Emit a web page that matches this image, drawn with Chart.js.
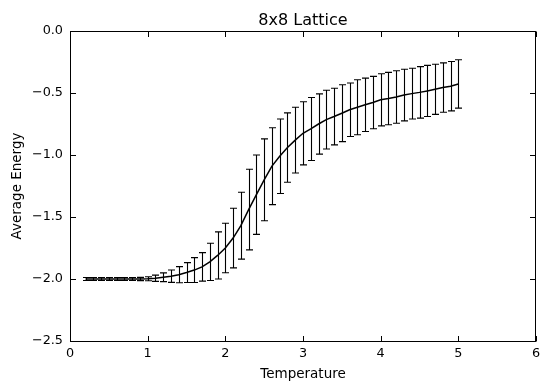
<!DOCTYPE html>
<html><head><meta charset="utf-8">
<script src="https://cdn.jsdelivr.net/npm/chart.js@4"></script>
<style>html,body{margin:0;padding:0;background:#fff}</style>
</head><body>
<canvas id="c" width="549" height="391"></canvas>
<script>
const temps = [0.2,0.3,0.4,0.5,0.6,0.7,0.8,0.9,1.0,1.1,1.2,1.3,1.4,1.5,1.6,1.7,1.8,1.9,2.0,
  2.1,2.2,2.3,2.4,2.5,2.6,2.7,2.8,2.9,3.0,3.1,3.2,3.3,3.4,3.5,3.6,3.7,3.8,3.9,4.0,
  4.1,4.2,4.3,4.4,4.5,4.6,4.7,4.8,4.9,5.0];
const meanEnergy = [-2.0,-2.0,-2.0,-2.0,-2.0,-2.0,-2.0,-2.0,-1.998,-1.994,-1.986,-1.977,-1.965,-1.948,-1.928,-1.902,-1.862,-1.81,-1.75,
  -1.67,-1.57,-1.44,-1.32,-1.20,-1.09,-1.01,-0.94,-0.88,-0.825,-0.79,-0.75,-0.715,-0.69,-0.663,-0.635,-0.615,-0.595,-0.577,-0.555,
  -0.545,-0.532,-0.517,-0.505,-0.495,-0.483,-0.47,-0.456,-0.445,-0.427];
const stdEnergy = [0.012,0.012,0.012,0.012,0.012,0.012,0.012,0.013,0.016,0.025,0.035,0.05,0.065,0.08,0.1,0.115,0.15,0.19,0.2,
  0.24,0.27,0.325,0.32,0.33,0.31,0.30,0.28,0.265,0.255,0.254,0.243,0.237,0.228,0.229,0.216,0.222,0.215,0.211,0.21,
  0.211,0.212,0.208,0.205,0.208,0.206,0.202,0.199,0.199,0.195];
const xTicks = [0,1,2,3,4,5,6];
const yTicks = [-2.5,-2.0,-1.5,-1.0,-0.5,0.0];
const titleText = '8x8 Lattice';
const xLabel = 'Temperature';
const yLabel = 'Average Energy';

const FONT = '"DejaVu Sans", "Liberation Sans", sans-serif';
const fmtY = v => v.toFixed(1).replace('-', '\u2212');

const errorBars = {
  id: 'errorBars',
  afterDatasetsDraw(chart) {
    const {ctx, scales: {x, y}} = chart;
    ctx.save();
    ctx.strokeStyle = '#000';
    ctx.lineWidth = 1.1;
    const cap = 3.5;
    temps.forEach((t, i) => {
      const px = Math.round(x.getPixelForValue(t)) + 0.5;
      const yt = y.getPixelForValue(meanEnergy[i] + stdEnergy[i]);
      const yb = y.getPixelForValue(meanEnergy[i] - stdEnergy[i]);
      ctx.beginPath();
      ctx.moveTo(px, yt); ctx.lineTo(px, yb);
      ctx.moveTo(px - cap, yt); ctx.lineTo(px + cap, yt);
      ctx.moveTo(px - cap, yb); ctx.lineTo(px + cap, yb);
      ctx.stroke();
    });
    ctx.restore();
  }
};

const frame = {
  id: 'frame',
  afterDraw(chart) {
    const {ctx, chartArea: a, scales: {x, y}} = chart;
    ctx.save();
    ctx.strokeStyle = '#000';
    ctx.lineWidth = 1;
    const L = Math.round(a.left) + 0.5, R = Math.round(a.right) - 0.5;
    const T = Math.round(a.top) + 0.5, B = Math.round(a.bottom) + 0.5;
    ctx.strokeRect(L, T, R - L, B - T);
    const tl = 5.5;
    ctx.beginPath();
    xTicks.forEach(v => {
      const px = Math.round(x.getPixelForValue(v)) + 0.5;
      ctx.moveTo(px, B); ctx.lineTo(px, B - tl);
      ctx.moveTo(px, T); ctx.lineTo(px, T + tl);
    });
    yTicks.forEach(v => {
      const py = Math.round(y.getPixelForValue(v)) + 0.5;
      ctx.moveTo(L, py); ctx.lineTo(L + tl, py);
      ctx.moveTo(R, py); ctx.lineTo(R - tl, py);
    });
    ctx.stroke();
    ctx.fillStyle = '#000';
    ctx.textAlign = 'center';
    ctx.textBaseline = 'alphabetic';
    ctx.font = '16px ' + FONT;
    ctx.fillText(titleText, (a.left + a.right) / 2, 25);
    ctx.font = '13.5px ' + FONT;
    ctx.fillText(xLabel, (a.left + a.right) / 2, 378);
    ctx.save();
    ctx.translate(21, (a.top + a.bottom) / 2);
    ctx.rotate(-Math.PI / 2);
    ctx.fillText(yLabel, 0, 0);
    ctx.restore();
    ctx.restore();
  }
};

new Chart(document.getElementById('c'), {
  type: 'line',
  data: {
    datasets: [{
      data: temps.map((t, i) => ({x: t, y: meanEnergy[i]})),
      borderColor: '#000',
      borderWidth: 1.5,
      pointRadius: 0,
      tension: 0,
      fill: false
    }]
  },
  options: {
    responsive: false,
    animation: false,
    devicePixelRatio: 1,
    layout: {padding: {left: 0, top: 31, right: 13, bottom: 0}},
    plugins: {legend: {display: false}, title: {display: false}, tooltip: {enabled: false}},
    scales: {
      x: {
        type: 'linear', min: 0, max: 6,
        afterFit: s => { s.height = 50; },
        afterBuildTicks: s => { s.ticks = xTicks.map(v => ({value: v})); },
        grid: {display: false, drawTicks: false},
        border: {display: false},
        ticks: {color: '#000', font: {family: FONT, size: 12.8}, padding: 5,
          maxRotation: 0, callback: v => String(v)}
      },
      y: {
        type: 'linear', min: -2.5, max: 0,
        afterFit: s => { s.width = 70; },
        afterBuildTicks: s => { s.ticks = yTicks.map(v => ({value: v})); },
        grid: {display: false, drawTicks: false},
        border: {display: false},
        ticks: {color: '#000', font: {family: FONT, size: 12.8}, padding: 7,
          callback: v => fmtY(v)}
      }
    }
  },
  plugins: [errorBars, frame]
});
</script></body></html>
